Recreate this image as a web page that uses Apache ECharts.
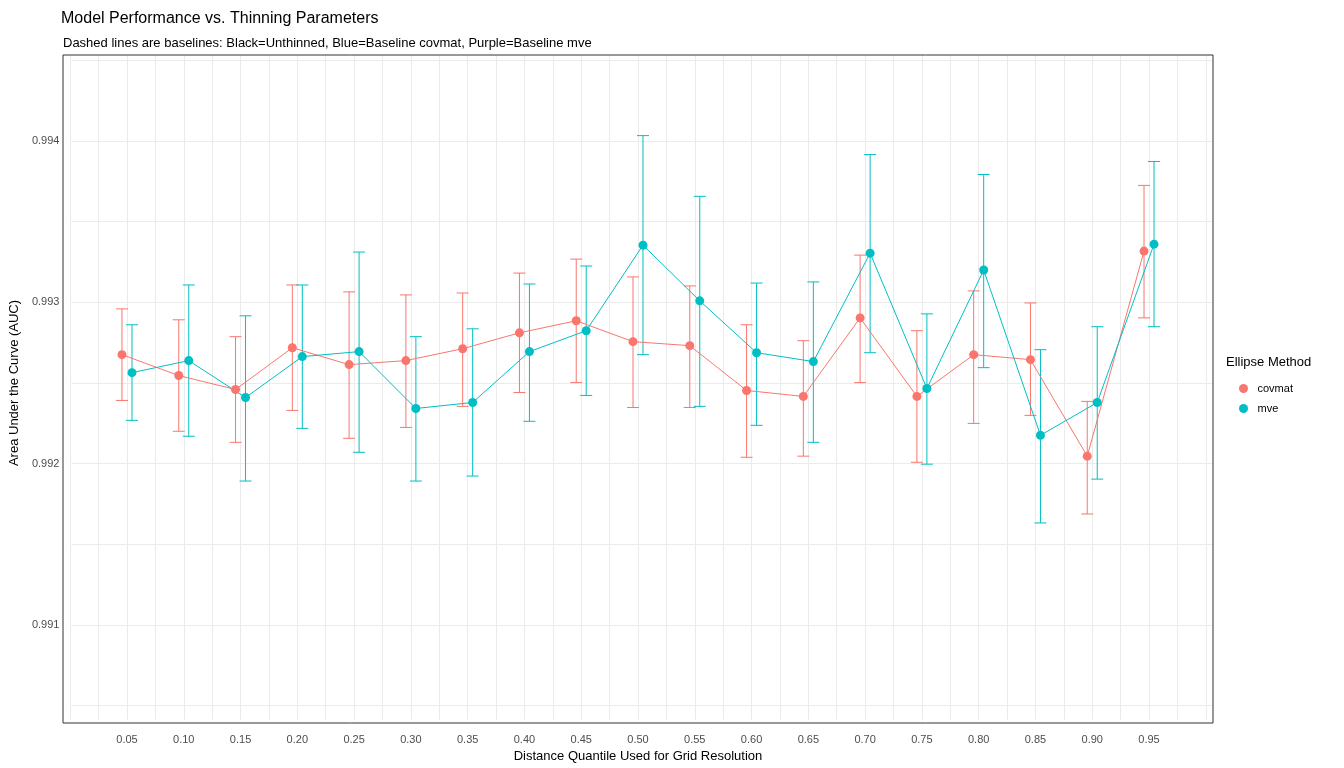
<!DOCTYPE html><html><head><meta charset="utf-8"><script src="https://cdn.jsdelivr.net/npm/echarts@6/dist/echarts.min.js"></script>
<style>body{margin:0}#c{width:1344px;height:768px}</style></head><body><div id="c"></div><script>
const quantiles=[0.05,0.10,0.15,0.20,0.25,0.30,0.35,0.40,0.45,0.50,0.55,0.60,0.65,0.70,0.75,0.80,0.85,0.90,0.95];
const covmatMean=[0.992667,0.992537,0.99245,0.99271,0.992605,0.99263,0.992704,0.992803,0.992878,0.992748,0.992723,0.992444,0.992407,0.992896,0.992407,0.992667,0.992636,0.992035,0.993312];
const covmatHi=[0.992952,0.992884,0.992779,0.993101,0.993058,0.993039,0.993051,0.993175,0.993262,0.993151,0.993095,0.992853,0.992754,0.993287,0.992816,0.993064,0.992989,0.992376,0.993721];
const covmatLo=[0.992382,0.99219,0.992121,0.99232,0.992146,0.992214,0.992345,0.992431,0.992493,0.992338,0.992338,0.992028,0.992035,0.992493,0.991997,0.992239,0.992289,0.991675,0.992896];
const mveMean=[0.992555,0.99263,0.9924,0.992655,0.992686,0.992332,0.992369,0.992686,0.992816,0.993349,0.993002,0.992679,0.992624,0.993299,0.992456,0.993194,0.992165,0.992369,0.993355];
const mveHi=[0.992853,0.993101,0.992909,0.993101,0.993306,0.992779,0.992828,0.993107,0.993219,0.994031,0.993653,0.993113,0.99312,0.993913,0.992921,0.993789,0.992698,0.992841,0.99387];
const mveLo=[0.992258,0.992159,0.99188,0.992208,0.992059,0.99188,0.991911,0.992252,0.992413,0.992667,0.992345,0.992227,0.992121,0.992679,0.991985,0.992586,0.991619,0.991892,0.992841];
const baseUnthinned=[0.992958,0.991551];
const baseMve=0.992903;
const yTicks=[0.991,0.992,0.993,0.994];
const dodge=0.0044;
const C1='#F8766D',C2='#00BFC4';
function pts(m,off){return quantiles.map((q,i)=>[q+off,m[i]]);}
function bars(lo,hi,off){return quantiles.map((q,i)=>[q+off,lo[i],hi[i]]);}
function errSeries(lo,hi,off,col){return {type:'custom',xAxisIndex:0,yAxisIndex:0,data:bars(lo,hi,off),silent:true,
 renderItem:(p,api)=>{const a=api.coord([api.value(0),api.value(1)]),b=api.coord([api.value(0),api.value(2)]);const w=6;
 const st={stroke:col,lineWidth:1};return {type:'group',children:[
 {type:'line',shape:{x1:a[0],y1:a[1],x2:b[0],y2:b[1]},style:st},
 {type:'line',shape:{x1:a[0]-w,y1:a[1],x2:a[0]+w,y2:a[1]},style:st},
 {type:'line',shape:{x1:b[0]-w,y1:b[1],x2:b[0]+w,y2:b[1]},style:st}]};}};}
const isMajor=v=>{const k=v*20;return Math.abs(k-Math.round(k))<1e-6;};
const ch=echarts.init(document.getElementById('c'));
ch.setOption({animation:false,
title:[{text:'Model Performance vs. Thinning Parameters',left:56,top:6,textStyle:{fontSize:16,fontWeight:'normal',color:'#000',fontFamily:'Liberation Sans'}},
{text:'Dashed lines are baselines: Black=Unthinned, Blue=Baseline covmat, Purple=Baseline mve',left:58,top:32,textStyle:{fontSize:13,fontWeight:'normal',color:'#000',fontFamily:'Liberation Sans'}}],
grid:[{left:70.2,right:138.2,top:55,bottom:45},{left:63,right:131,top:60.35,bottom:62.35},{left:63,right:131,top:55,bottom:45,show:true,borderColor:'#333',borderWidth:1,backgroundColor:'transparent',z:10}],
xAxis:[{gridIndex:0,type:'value',min:0,max:1,interval:0.025,axisLine:{show:false},axisTick:{show:false},
 axisLabel:{formatter:v=>(v>0.01&&v<0.99&&isMajor(v))?v.toFixed(2):'',color:'#4d4d4d',fontSize:11,margin:14},
 splitLine:{lineStyle:{color:'#ebebeb',width:1}},
 name:'Distance Quantile Used for Grid Resolution',nameLocation:'middle',nameGap:30,nameTextStyle:{fontSize:13,color:'#000'}},
 {gridIndex:1,type:'value',show:false,min:0,max:1},{gridIndex:2,type:'value',show:false,min:0,max:1}],
yAxis:[{gridIndex:0,type:'value',show:false,min:0.990392,max:0.994533},
 {gridIndex:1,type:'value',min:0.9905,max:0.9945,interval:0.0005,axisLine:{show:false},axisTick:{show:false},
 axisLabel:{formatter:v=>yTicks.some(t=>Math.abs(t-v)<1e-7)?v.toFixed(3):'',color:'#4d4d4d',fontSize:11,margin:12},
 splitLine:{lineStyle:{color:'#ebebeb'}},
 name:'Area Under the Curve (AUC)',nameLocation:'middle',nameGap:47,nameTextStyle:{fontSize:13,color:'#000'}},
 {gridIndex:2,type:'value',show:false}],
series:[
 errSeries(covmatLo,covmatHi,-dodge,C1),errSeries(mveLo,mveHi,dodge,C2),
 {type:'line',name:'covmat',xAxisIndex:0,yAxisIndex:0,data:pts(covmatMean,-dodge),symbol:'circle',symbolSize:9,lineStyle:{color:C1,width:1},itemStyle:{color:C1},
  markLine:{silent:true,symbol:'none',label:{show:false},
  data:[{yAxis:baseUnthinned[0],lineStyle:{color:'#000',type:[4,4],width:1}},{yAxis:baseUnthinned[1],lineStyle:{color:'#000',type:[4,4],width:1}},{yAxis:baseMve,lineStyle:{color:'#a020f0',type:[4,4],width:1}}]}},
 {type:'line',name:'mve',xAxisIndex:0,yAxisIndex:0,data:pts(mveMean,dodge),symbol:'circle',symbolSize:9,lineStyle:{color:C2,width:1},itemStyle:{color:C2}}
],
legend:{show:true,data:['covmat','mve'],orient:'vertical',left:1234,top:378,itemWidth:18,itemHeight:9,itemGap:9,icon:'circle',textStyle:{fontSize:11,color:'#000'}},
graphic:[{type:'text',left:1226,top:356,style:{text:'Ellipse Method',fontSize:13,fill:'#000'}}]
});
</script></body></html>
